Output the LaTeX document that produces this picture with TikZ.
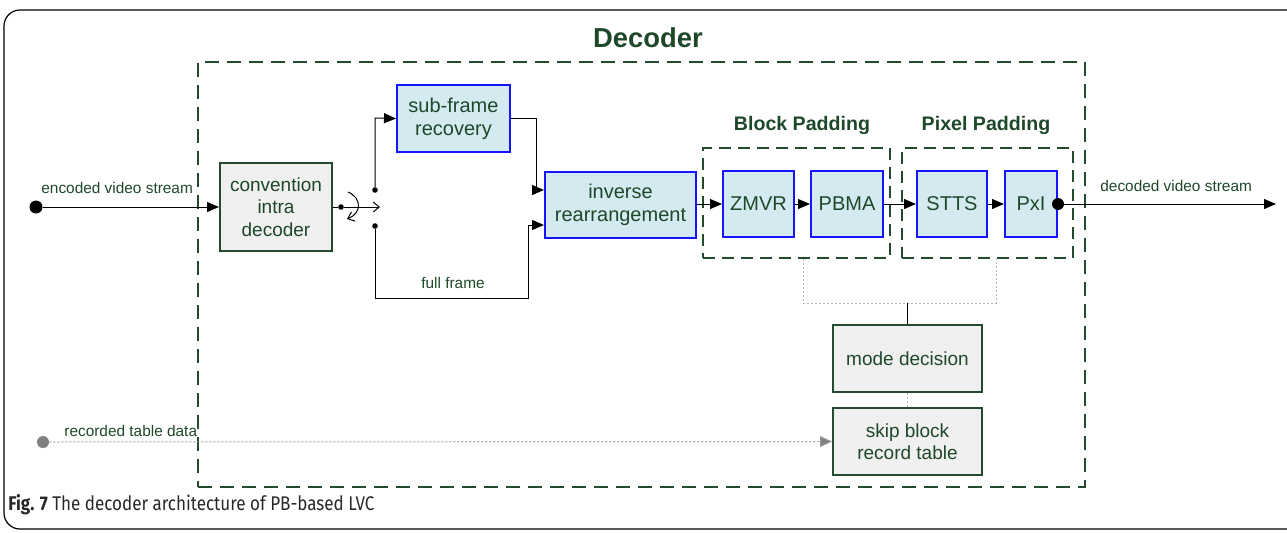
\documentclass[tikz,border=0pt]{standalone}
\usepackage{fontspec}
\setmainfont{Liberation Sans}
\newfontfamily\capfont{Fira Sans}
\usetikzlibrary{arrows.meta,calc}
\definecolor{txtgreen}{RGB}{30,72,42}
\definecolor{lngreen}{RGB}{35,75,45}
\definecolor{boxblue}{RGB}{20,20,255}
\definecolor{cyanfill}{RGB}{212,234,240}
\definecolor{grayfill}{RGB}{240,240,240}
\definecolor{dotgray}{RGB}{180,180,180}
\definecolor{capgray}{RGB}{40,40,40}
\begin{document}
\begin{tikzpicture}[x=0.5pt,y=-0.5pt,
  bluebox/.style={draw=boxblue,fill=cyanfill,line width=1pt,inner sep=0pt,align=center,text=txtgreen,font=\fontsize{10}{11.4}\selectfont},
  greenbox/.style={draw=lngreen,fill=grayfill,line width=1pt,inner sep=0pt,align=center,text=txtgreen,font=\fontsize{9.5}{11.3}\selectfont},
  dashbox/.style={draw=lngreen,line width=1pt,dash pattern=on 7pt off 4pt,inner sep=0pt},
  lbl/.style={text=txtgreen,font=\fontsize{7.7}{9}\selectfont,inner sep=0pt},
  ttl/.style={text=txtgreen,font=\bfseries\fontsize{9.8}{11}\selectfont,inner sep=0pt},
  conn/.style={draw=black,line width=0.5pt},
  arr/.style={conn,-{Triangle[length=6pt,width=5pt]}},
  gconn/.style={draw=dotgray,line width=0.5pt,dash pattern=on 1pt off 1pt},
  bigdot/.style={circle,fill=black,inner sep=0pt,minimum size=6.5pt},
  smalldot/.style={circle,fill=black,inner sep=0pt,minimum size=2.8pt}]
\useasboundingbox (0,0) rectangle (1287,532);
\clip (0,0) rectangle (1287,532);
% outer frame (open on the right, as clipped in the original)
\draw[line width=0.6pt,rounded corners=8pt] (1300,10) -- (4,10) -- (4,529) -- (1300,529);
% title
\node[text=txtgreen,font=\bfseries\fontsize{13.7}{15}\selectfont,inner sep=0pt] (title) at (648,38) {Decoder};
% decoder area
\node[dashbox,minimum width=443.5pt,minimum height=212.5pt] (dec) at (641.5,274.5) {};
\node[dashbox,dash pattern=on 6pt off 3.5pt,minimum width=93.5pt,minimum height=55pt] (block) at (796.5,203) {};
\node[dashbox,dash pattern=on 6pt off 3.5pt,minimum width=85.5pt,minimum height=55pt] (pixel) at (987.5,203) {};
\node[ttl] (blockt) at (802,125) {Block Padding};
\node[ttl] (pixelt) at (986,125) {Pixel Padding};
% boxes
\node[greenbox,minimum width=56pt,minimum height=44pt] (conv) at (276,207) {convention\\intra\\decoder};
\node[bluebox,minimum width=56.5pt,minimum height=33.5pt] (sub) at (453.5,118.5) {sub-frame\\recovery};
\node[bluebox,minimum width=75.5pt,minimum height=33pt] (inv) at (620.5,205) {inverse\\rearrangement};
\node[bluebox,minimum width=35.5pt,minimum height=33pt] (zmvr) at (758.5,204) {ZMVR};
\node[bluebox,minimum width=36pt,minimum height=33pt] (pbma) at (847,204) {PBMA};
\node[bluebox,minimum width=35pt,minimum height=33pt] (stts) at (952,204) {STTS};
\node[bluebox,minimum width=26pt,minimum height=33pt] (pxi) at (1031,204) {PxI};
\node[greenbox,minimum width=74.5pt,minimum height=33.5pt] (mode) at (907.5,358.5) {mode decision};
\node[greenbox,minimum width=74.5pt,minimum height=33.5pt] (skip) at (907.5,441.5) {skip block\\record table};
% input
\node[bigdot] (in) at (36,207) {};
\node[lbl,anchor=south west] (inl) at (41,194) {encoded video stream};
\draw[arr] (in) -- (conv.west);
% switch
\node[smalldot] (sw) at (341,207) {};
\coordinate (swend) at (380,207);
\draw[conn] (conv.east |- sw) -- (sw);
\draw[conn,-{Straight Barb[length=3pt,width=5pt]}] (sw) -- (swend);
\draw[conn,-{Straight Barb[length=3pt,width=5pt]}] (348,192) .. controls (362,198) and (362,213) .. (347,219);
\node[smalldot] (up) at (375,190) {};
\node[smalldot] (dn) at (375,226) {};
% upper branch
\draw[arr] (up) -- (375,118) -- (sub.west);
\draw[arr] (sub.east) -- (536,118.5) -- (536,190) -- (inv.west |- 0,190);
% lower branch
\draw[arr] (dn) -- (375,298) -- (528,298) -- (528,225) -- (inv.west |- 0,225);
\node[lbl] (ffl) at (453,283) {full frame};
% chain
\draw[arr] (inv.east |- zmvr) -- (zmvr.west);
\draw[arr] (zmvr) -- (pbma);
\draw[arr] (pbma) -- (stts);
\draw[arr] (stts) -- (pxi);
\node[bigdot,minimum size=6pt] (outd) at (pxi.east) {};
\coordinate (outend) at (1276,204);
\draw[arr] (outd) -- (outend);
\node[lbl,anchor=south west] (outl) at (1100,192) {decoded video stream};
% mode decision links
\coordinate (bpd) at (803,303);
\coordinate (ppd) at (996,303);
\draw[gconn] (block.south -| bpd) -- (bpd) -- (ppd) -- (pixel.south -| ppd);
\draw[conn] (mode.north |- bpd) -- (mode.north);
\draw[gconn] (mode.south) -- (skip.north);
% recorded table data
\node[circle,fill=gray,inner sep=0pt,minimum size=6pt] (rec) at (43,442) {};
\draw[gconn,draw=gray!80,-{Triangle[length=6pt,width=5.5pt,fill=gray]}] (rec) -- (skip.west);
\node[lbl,anchor=south west] (recl) at (64,437) {recorded table data};
% caption
\node[anchor=west,inner sep=0pt,text=capgray] (cap) at (8,505) {\scalebox{0.86}[1]{\capfont\fontsize{9.9}{11}\selectfont\textbf{Fig. 7} The decoder architecture of PB-based LVC}};
\end{tikzpicture}
\end{document}
